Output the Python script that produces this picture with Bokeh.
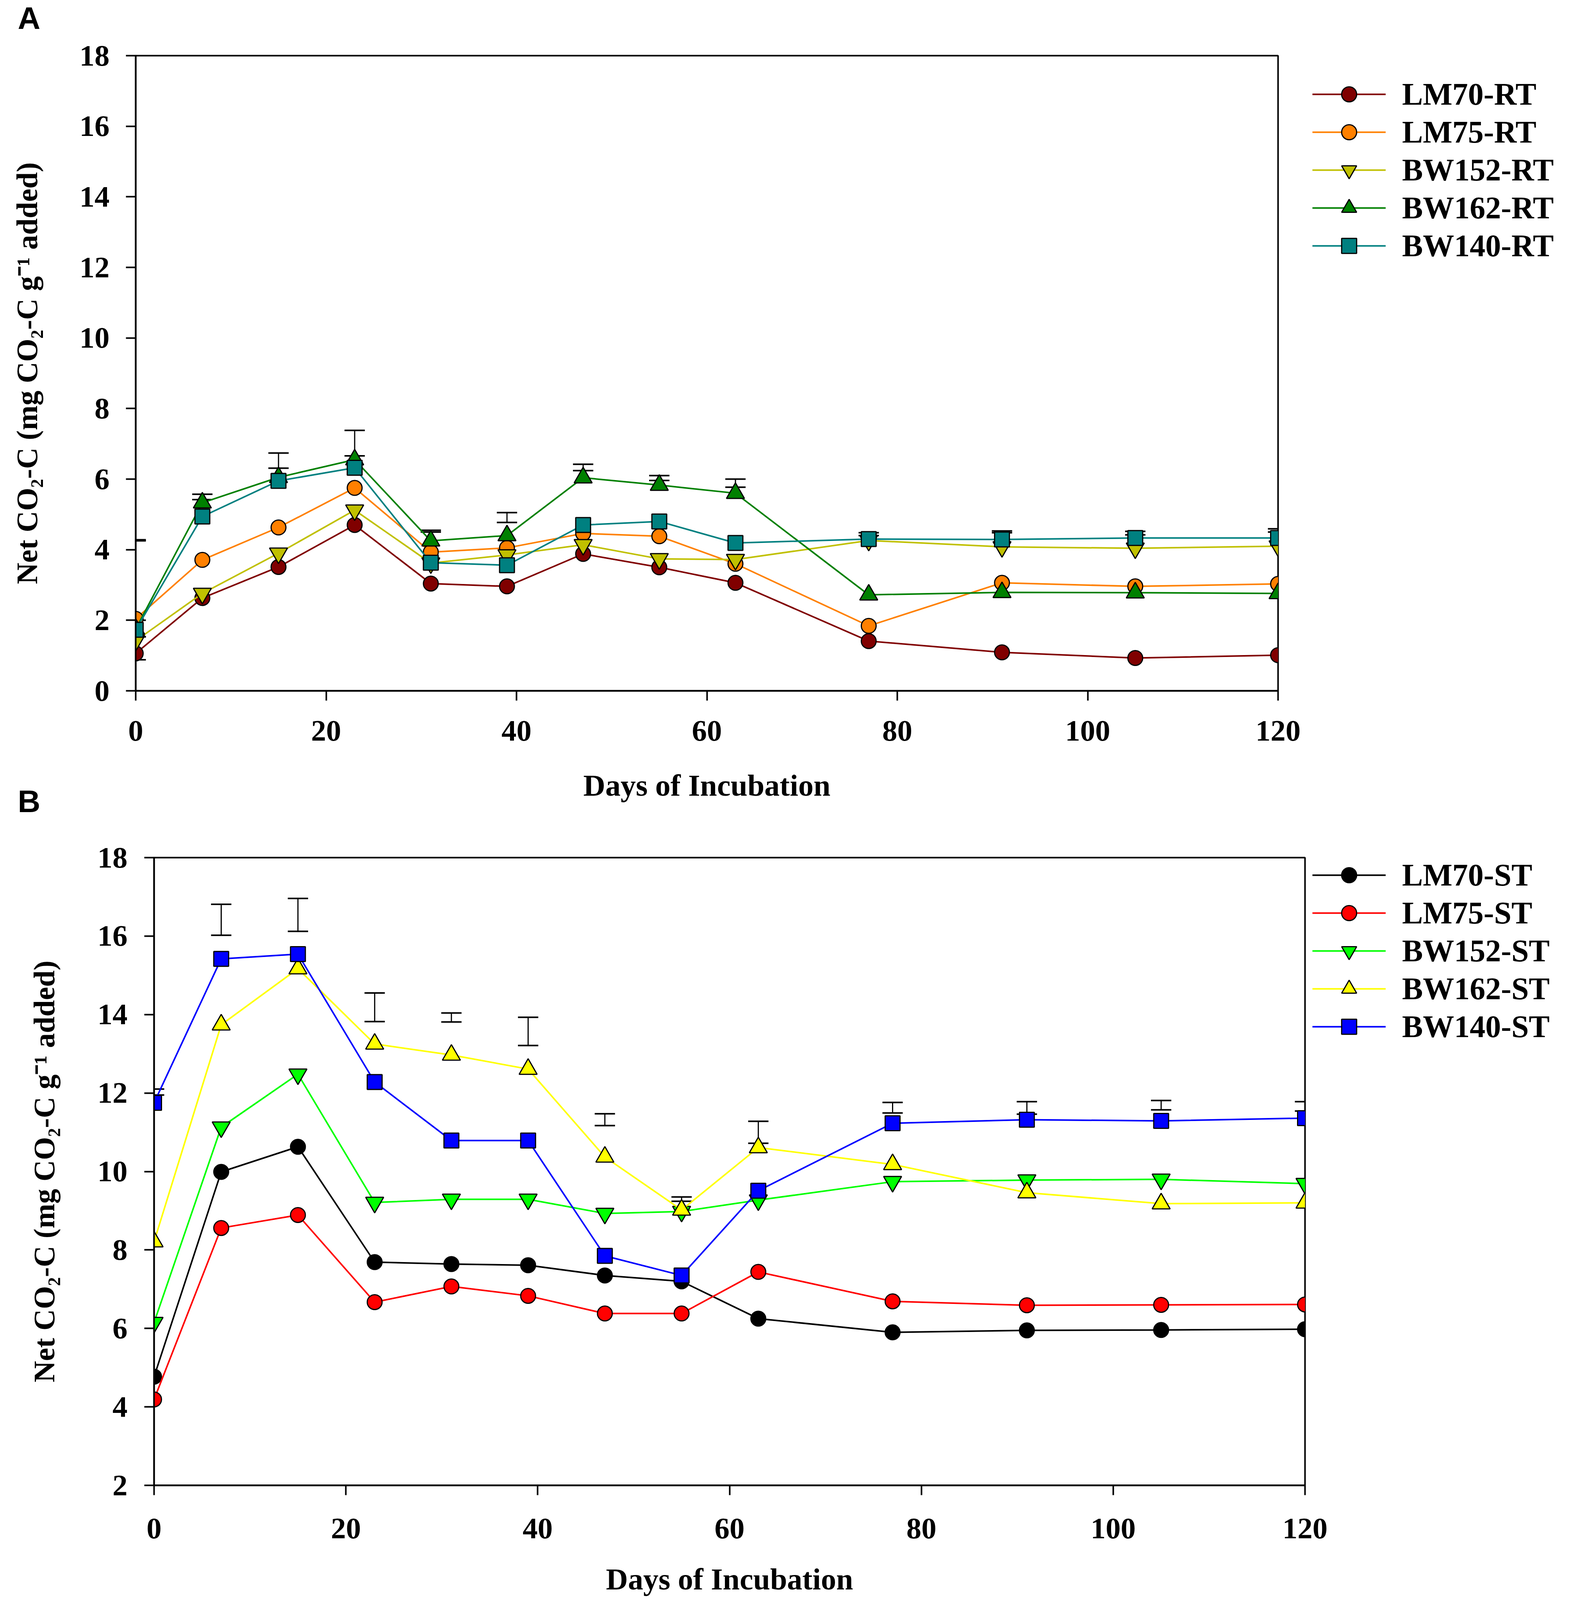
from bokeh.plotting import figure
from bokeh.models import (Legend, LegendItem, Whisker, TeeHead, ColumnDataSource,
                          FixedTicker, Range1d)
from bokeh.core.properties import value
from bokeh.embed import file_html
from bokeh.resources import INLINE

# ---------------- data ----------------
days = [0, 7, 15, 23, 31, 39, 47, 55, 63, 77, 91, 105, 120]

series_a_names = ["LM70-RT", "LM75-RT", "BW152-RT", "BW162-RT", "BW140-RT"]
lm70_rt = [1.06, 2.63, 3.51, 4.70, 3.04, 2.96, 3.88, 3.50, 3.06, 1.41, 1.09, 0.93, 1.01]
lm75_rt = [2.04, 3.71, 4.63, 5.75, 3.93, 4.05, 4.46, 4.38, 3.60, 1.84, 3.06, 2.96, 3.03]
bw152_rt = [1.42, 2.76, 3.90, 5.12, 3.62, 3.85, 4.14, 3.74, 3.72, 4.26, 4.08, 4.04, 4.10]
bw162_rt = [1.75, 5.33, 6.05, 6.55, 4.25, 4.40, 6.04, 5.83, 5.60, 2.72, 2.79, 2.78, 2.76]
bw140_rt = [1.73, 4.94, 5.95, 6.32, 3.63, 3.56, 4.70, 4.80, 4.19, 4.30, 4.29, 4.33, 4.33]

err_a_days = [0, 0, 0, 7, 15, 23, 31, 39, 47, 55, 63, 77, 91, 105, 120]
err_a_low = [0.88, 1.53, 4.25, 5.42, 6.31, 6.66, 4.50, 4.77, 6.24, 5.96, 5.77, 4.40, 4.48, 4.42, 4.50]
err_a_high = [1.53, 2.00, 4.28, 5.57, 6.74, 7.38, 4.55, 5.05, 6.42, 6.10, 6.00, 4.48, 4.53, 4.52, 4.59]

series_b_names = ["LM70-ST", "LM75-ST", "BW152-ST", "BW162-ST", "BW140-ST"]
lm70_st = [4.77, 9.99, 10.63, 7.69, 7.64, 7.61, 7.35, 7.20, 6.25, 5.90, 5.95, 5.96, 5.98]
lm75_st = [4.19, 8.56, 8.89, 6.67, 7.07, 6.83, 6.38, 6.38, 7.44, 6.69, 6.59, 6.60, 6.61]
bw152_st = [6.15, 11.13, 12.48, 9.21, 9.29, 9.29, 8.93, 8.98, 9.27, 9.74, 9.78, 9.80, 9.69]
bw162_st = [8.21, 13.74, 15.17, 13.25, 12.97, 12.61, 10.37, 9.02, 10.61, 10.18, 9.46, 9.18, 9.20]
bw140_st = [11.75, 15.42, 15.54, 12.28, 10.79, 10.79, 7.85, 7.35, 9.51, 11.23, 11.32, 11.29, 11.36]

err_b_days = [0, 7, 15, 23, 31, 39, 47, 55, 63, 77, 91, 105, 120]
err_b_low = [11.95, 16.02, 16.12, 13.82, 13.81, 13.21, 11.17, 9.24, 10.72, 11.49, 11.46, 11.57, 11.54]
err_b_high = [12.10, 16.81, 16.96, 14.55, 14.04, 13.93, 11.47, 9.35, 11.28, 11.76, 11.78, 11.81, 11.78]

x_ticks = [0, 20, 40, 60, 80, 100, 120]
y_ticks_a = [0, 2, 4, 6, 8, 10, 12, 14, 16, 18]
y_ticks_b = [2, 4, 6, 8, 10, 12, 14, 16, 18]

markers = ["circle", "circle", "inverted_triangle", "triangle", "square"]
colors_a = ["#800000", "#FF8000", "#C0C000", "#008000", "#008080"]
colors_b = ["#000000", "#FF0000", "#00FF00", "#FFFF00", "#0000FF"]

X_TITLE = "Days of Incubation"
Y_TITLE = "Net CO\u2082-C (mg CO\u2082-C g\u207b\u00b9 added)"

SERIF = "Liberation Serif"


def header(letter, ypos, margin=None):
    # small strip whose data space equals its pixel space, holding the panel letter
    h = figure(width=300, height=100, output_backend="svg", toolbar_location=None,
               x_range=Range1d(0, 300), y_range=Range1d(0, 100), min_border=0,
               x_axis_location=None, y_axis_location=None)
    h.xgrid.grid_line_color = None
    h.ygrid.grid_line_color = None
    h.outline_line_color = None
    h.text(x=[45], y=[ypos], text=[letter], text_font=value("Liberation Sans"),
           text_font_style="bold", text_font_size="80px", text_baseline="middle",
           text_align="left", text_color="black")
    if margin is not None:
        h.margin = margin
    return h


def make_panel(names, ys, colors, err_days, err_low, err_high, yr, yticks,
               height, left, right, top, bottom, tick_standoff_x, title_standoff_x,
               tick_standoff_y, title_standoff_y, legend_loc, legend_margin):
    p = figure(width=4000, height=height, output_backend="svg", toolbar_location=None,
               x_range=Range1d(0, 120), y_range=Range1d(*yr),
               min_border_left=left, min_border_right=right,
               min_border_top=top, min_border_bottom=bottom)
    p.xgrid.grid_line_color = None
    p.ygrid.grid_line_color = None
    p.outline_line_color = "black"
    p.outline_line_width = 4

    p.xaxis.ticker = FixedTicker(ticks=x_ticks)
    p.yaxis.ticker = FixedTicker(ticks=yticks)
    for ax in (p.xaxis, p.yaxis):
        ax.minor_tick_line_color = None
        ax.major_tick_in = 0
        ax.major_tick_out = 25
        ax.major_tick_line_width = 4
        ax.axis_line_width = 4
        ax.major_label_text_font = SERIF
        ax.major_label_text_font_style = "bold"
        ax.major_label_text_font_size = "77px"
        ax.axis_label_text_font = SERIF
        ax.axis_label_text_font_style = "bold"
        ax.axis_label_text_color = "black"
        ax.major_label_text_color = "black"
    p.xaxis.axis_label = X_TITLE
    p.xaxis.axis_label_text_font_size = "78px"
    p.xaxis.major_label_standoff = tick_standoff_x
    p.xaxis.axis_label_standoff = title_standoff_x
    p.yaxis.axis_label = Y_TITLE
    p.yaxis.axis_label_text_font_size = "76px"
    p.yaxis.major_label_standoff = tick_standoff_y
    p.yaxis.axis_label_standoff = title_standoff_y

    items = []
    for name, y, c, m in zip(names, ys, colors, markers):
        src = ColumnDataSource(dict(x=days, y=y))
        lr = p.line("x", "y", source=src, line_color=c, line_width=4)
        size = 46 if "triangle" in m else 38
        sr = p.scatter("x", "y", source=src, marker=m, size=size, fill_color=c,
                       line_color="black", line_width=3)
        items.append(LegendItem(label=name, renderers=[lr, sr]))

    esrc = ColumnDataSource(dict(x=err_days, lo=err_low, hi=err_high))
    w = Whisker(source=esrc, base="x", lower="lo", upper="hi", line_color="black",
                line_width=3,
                upper_head=TeeHead(size=52, line_width=4, line_color="black"),
                lower_head=TeeHead(size=52, line_width=4, line_color="black"))
    p.add_layout(w)

    leg = Legend(items=items, location=legend_loc, orientation="vertical",
                 glyph_width=188, glyph_height=96, label_height=96, spacing=1,
                 label_standoff=42, padding=0, margin=legend_margin,
                 label_text_font=SERIF, label_text_font_style="bold",
                 label_text_font_size="80px", label_text_color="black",
                 border_line_alpha=0, background_fill_alpha=0)
    p.add_layout(leg, "right")
    return p


hA = header("A", 54)
pA = make_panel(series_a_names, [lm70_rt, lm75_rt, bw152_rt, bw162_rt, bw140_rt],
                colors_a, err_a_days, err_a_low, err_a_high, (0, 18), y_ticks_a,
                height=1958, left=347, right=728, top=42, bottom=290,
                tick_standoff_x=52, title_standoff_x=68,
                tick_standoff_y=42, title_standoff_y=90,
                legend_loc=(88, 1091), legend_margin=-105)

hB = header("B", 54, margin=(-53, 0, 0, 0))
pB = make_panel(series_b_names, [lm70_st, lm75_st, bw152_st, bw162_st, bw140_st],
                colors_b, err_b_days, err_b_low, err_b_high, (2, 18), y_ticks_b,
                height=1985, left=394, right=659, top=90, bottom=288,
                tick_standoff_x=60, title_standoff_x=58,
                tick_standoff_y=43, title_standoff_y=92,
                legend_loc=(19, 1126), legend_margin=-135)

open("out.html", "w").write(file_html([hA, pA, hB, pB], INLINE))
